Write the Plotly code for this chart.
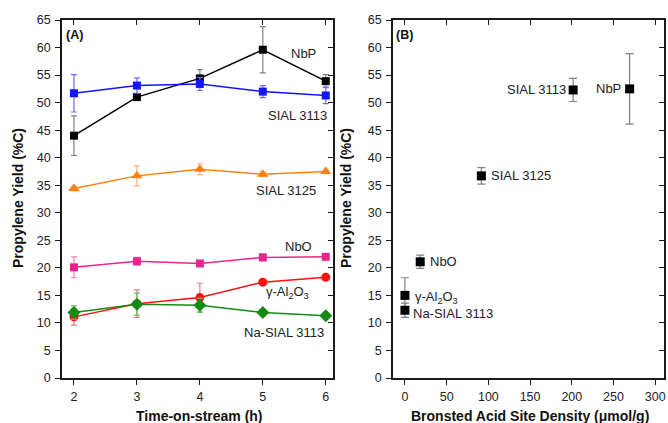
import plotly.graph_objects as go

# ---------------- data ----------------
time_h = [2, 3, 4, 5, 6]

nbp = [44.0, 51.0, 54.4, 59.6, 53.9]
nbp_err = [3.6, 0.6, 1.6, 4.2, 1.2]

sial3113 = [51.7, 53.1, 53.4, 52.0, 51.3]
sial3113_err = [3.4, 1.4, 1.2, 1.1, 1.5]

sial3125 = [34.4, 36.7, 37.9, 37.0, 37.5]
sial3125_err = [0.4, 1.8, 1.0, 0.4, 0.4]

nbo = [20.1, 21.2, 20.8, 21.9, 22.0]
nbo_err = [1.9, 0.7, 0.4, 0.6, 0.3]

al2o3 = [11.1, 13.5, 14.6, 17.4, 18.3]
al2o3_err = [1.5, 2.5, 2.6, 0.3, 0.3]

na_sial = [11.9, 13.4, 13.2, 11.9, 11.3]
na_sial_err = [1.2, 2.0, 1.3, 0.3, 0.3]

catalysts = ["NbP", "SIAL 3113", "SIAL 3125", "NbO", "γ-Al<sub>2</sub>O<sub>3</sub>", "Na-SIAL 3113"]
bas_density = [269.3, 201.6, 91.6, 18.3, 0.0, 0.0]
avg_yield = [52.5, 52.3, 36.7, 21.1, 15.0, 12.3]
avg_yield_err = [6.4, 2.1, 1.5, 1.2, 3.2, 1.3]

y_ticks = list(range(0, 66, 5))
a_ticks = [2, 3, 4, 5, 6]
b_ticks = list(range(0, 301, 50))

# ---------------- figure ----------------
FONT = "Arial"
fig = go.Figure()

series_a = [
    ("NbP", nbp, nbp_err, "#000000", "#7f7f7f", "square", 8),
    ("SIAL 3113", sial3113, sial3113_err, "#1414ff", "#6a6aff", "square", 8),
    ("SIAL 3125", sial3125, sial3125_err, "#ff7f0e", "#f2b27a", "triangle-up", 10),
    ("NbO", nbo, nbo_err, "#e6268c", "#ee80b8", "square", 8),
    ("γ-Al2O3", al2o3, al2o3_err, "#ff1010", "#f07a7a", "circle", 9),
    ("Na-SIAL 3113", na_sial, na_sial_err, "#138a13", "#6bb86b", "diamond", 10),
]
for name, ys, es, col, ecol, sym, sz in series_a:
    fig.add_trace(go.Scatter(
        x=time_h, y=ys, name=name, mode="lines+markers",
        line=dict(color=col, width=1.5),
        marker=dict(color=col, symbol=sym, size=sz),
        error_y=dict(type="data", array=es, color=ecol, thickness=1.2, width=3),
        xaxis="x", yaxis="y", showlegend=False, hoverinfo="skip",
    ))

fig.add_trace(go.Scatter(
    x=bas_density, y=avg_yield, mode="markers",
    marker=dict(color="#000000", symbol="square", size=9),
    error_y=dict(type="data", array=avg_yield_err, color="#808080", thickness=1.2, width=4),
    xaxis="x2", yaxis="y2", showlegend=False, hoverinfo="skip",
))

# empty traces so that overlay (mirror) axes are drawn
fig.add_trace(go.Scatter(x=[None], y=[None], xaxis="x3", yaxis="y3", showlegend=False))
fig.add_trace(go.Scatter(x=[None], y=[None], xaxis="x4", yaxis="y4", showlegend=False))

W, H = 668, 423
ax_dom_a = [62 / W, 333 / W]
ax_dom_b = [393 / W, 664 / W]
y_dom = [1 - 378 / H, 1 - 20 / H]
xr_a = [1.81, 6.115]
xr_b = [-14.3, 310.5]
yr = [0, 65]

tickfont = dict(family=FONT, size=12.5, color="#222222")
common = dict(showgrid=False, zeroline=False, showline=True, linecolor="#1a1a1a",
              linewidth=1.6, ticks="outside", ticklen=5, tickwidth=1.3,
              tickcolor="#1a1a1a", tickfont=tickfont, automargin=False)
mirror = dict(showgrid=False, zeroline=False, showline=True, linecolor="#1a1a1a",
              linewidth=1.6, ticks="inside", ticklen=5, tickwidth=1.3,
              tickcolor="#1a1a1a", showticklabels=False, automargin=False)

fig.update_layout(
    width=W, height=H, autosize=False,
    margin=dict(l=0, r=0, t=0, b=0, pad=0),
    paper_bgcolor="white", plot_bgcolor="white",
    font=dict(family=FONT, size=13, color="#222222"),
    xaxis=dict(domain=ax_dom_a, range=xr_a, tickvals=a_ticks, anchor="y", ticklabelstandoff=1, **common),
    yaxis=dict(domain=y_dom, range=yr, tickvals=y_ticks, anchor="x", ticklabelstandoff=2, **common),
    xaxis2=dict(domain=ax_dom_b, range=xr_b, tickvals=b_ticks, anchor="y2", ticklabelstandoff=1, **common),
    yaxis2=dict(domain=y_dom, range=yr, tickvals=y_ticks, anchor="x2", ticklabelstandoff=2, **common),
    xaxis3=dict(overlaying="x", side="top", anchor="y", range=xr_a, tickvals=a_ticks, **mirror),
    yaxis3=dict(overlaying="y", side="right", anchor="x", range=yr, tickvals=y_ticks, **mirror),
    xaxis4=dict(overlaying="x2", side="top", anchor="y2", range=xr_b, tickvals=b_ticks, **mirror),
    yaxis4=dict(overlaying="y2", side="right", anchor="x2", range=yr, tickvals=y_ticks, **mirror),
)

ann = []
lab_font = dict(family=FONT, size=13, color="#222222")
# panel A series labels
a_labels = [("NbP", 5.65, 59.0), ("SIAL 3113", 5.55, 47.75), ("SIAL 3125", 5.37, 34.0),
            ("NbO", 5.57, 23.8), ("γ-Al<sub>2</sub>O<sub>3</sub>", 5.4, 15.5),
            ("Na-SIAL 3113", 5.33, 8.3)]
for t, xx, yy in a_labels:
    ann.append(dict(text=t, x=xx, y=yy, xref="x", yref="y", showarrow=False,
                    xanchor="center", yanchor="middle", font=lab_font))
# panel B labels
b_pos = [(261.7, 52.6, "right"), (196.0, 52.4, "right"), (100.4, 36.7, "left"),
         (27.1, 21.2, "left"), (9.2, 14.6, "left"), (7.2, 11.7, "left")]
for t, (xx, yy, anc) in zip(catalysts, b_pos):
    ann.append(dict(text=t, x=xx, y=yy, xref="x2", yref="y2", showarrow=False,
                    xanchor=anc, yanchor="middle", font=lab_font))
# panel tags
tag = dict(family=FONT, size=12.5, color="#111111")
ann.append(dict(text="<b>(A)</b>", x=64 / W, y=1 - 35 / H, xref="paper", yref="paper",
                showarrow=False, xanchor="left", yanchor="middle", font=tag))
ann.append(dict(text="<b>(B)</b>", x=394 / W, y=1 - 35 / H, xref="paper", yref="paper",
                showarrow=False, xanchor="left", yanchor="middle", font=tag))
# axis titles
bold = dict(family=FONT, size=14, color="#111111")
ann.append(dict(text="<b>Time-on-stream (h)</b>", x=200 / W, y=1 - 416 / H, xref="paper", yref="paper",
                showarrow=False, xanchor="center", yanchor="middle", font=bold))
ann.append(dict(text="<b>Bronsted Acid Site Density (μmol/g)</b>", x=530 / W, y=1 - 416 / H,
                xref="paper", yref="paper", showarrow=False, xanchor="center", yanchor="middle", font=bold))
ann.append(dict(text="<b>Propylene Yield (%C)</b>", x=18 / W, y=1 - 198 / H, xref="paper", yref="paper",
                showarrow=False, xanchor="center", yanchor="middle", textangle=-90, font=bold))
ann.append(dict(text="<b>Propylene Yield (%C)</b>", x=346 / W, y=1 - 198 / H, xref="paper", yref="paper",
                showarrow=False, xanchor="center", yanchor="middle", textangle=-90, font=bold))
fig.update_layout(annotations=ann)

fig.write_html("out.html", config={"displayModeBar": False},
               post_script="document.body.style.margin='0px';")
